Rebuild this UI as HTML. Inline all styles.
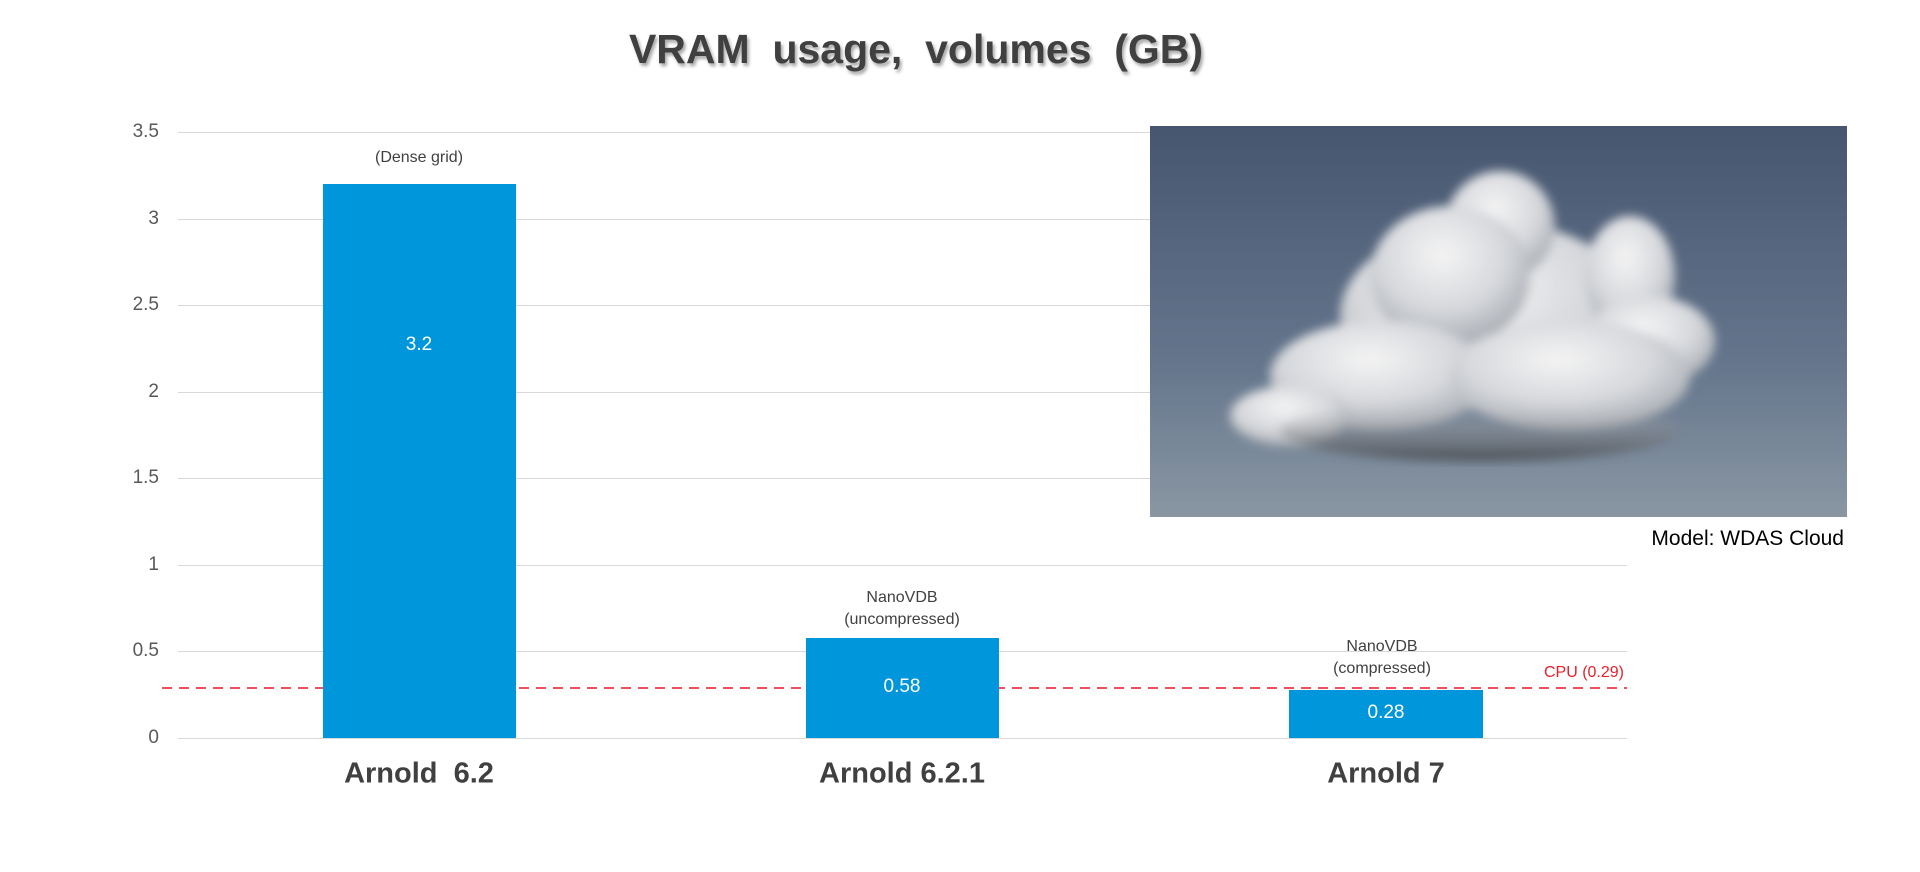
<!DOCTYPE html>
<html><head><meta charset="utf-8"><style>
body{margin:0;width:1920px;height:872px;background:#fff;position:relative;overflow:hidden;font-family:"Liberation Sans",Arial,sans-serif}
.a{position:absolute;white-space:nowrap}
.t{left:0;width:1832px;text-align:center;top:26px;font-size:41px;font-weight:bold;color:#404040;text-shadow:2px 3px 3px rgba(0,0,0,.35)}
.yl{right:1761px;font-size:19px;color:#595959;transform:translateY(-50%)}
.g{left:178px;width:1449px;height:1px;background:#d9d9d9}
.bar{background:#0096db}
.v{color:#fff;font-size:19px;transform:translate(-50%,-50%)}
.n{color:#404040;font-size:16px;transform:translate(-50%,-50%);text-align:center}
.c{font-size:29px;font-weight:bold;color:#404040;transform:translate(-50%,-50%)}
</style></head><body>
<div class="a t">VRAM &nbsp;usage, &nbsp;volumes &nbsp;(GB)</div>

<div class="a g" style="top:132px"></div>
<div class="a g" style="top:219px"></div>
<div class="a g" style="top:305px"></div>
<div class="a g" style="top:392px"></div>
<div class="a g" style="top:478px"></div>
<div class="a g" style="top:565px"></div>
<div class="a g" style="top:651px"></div>
<div class="a g" style="top:738px"></div>

<div class="a yl" style="top:132px">3.5</div>
<div class="a yl" style="top:219px">3</div>
<div class="a yl" style="top:305px">2.5</div>
<div class="a yl" style="top:392px">2</div>
<div class="a yl" style="top:478px">1.5</div>
<div class="a yl" style="top:565px">1</div>
<div class="a yl" style="top:651px">0.5</div>
<div class="a yl" style="top:738px">0</div>

<svg class="a" style="left:0;top:0" width="1920" height="872">
<line x1="162" y1="688" x2="1627" y2="688" stroke="#f0505a" stroke-width="2" stroke-dasharray="10,7"/>
</svg>

<div class="a bar" style="left:323px;width:193px;top:184px;height:554px"></div>
<div class="a bar" style="left:806px;width:193px;top:638px;height:100px"></div>
<div class="a bar" style="left:1289px;width:194px;top:690px;height:48px"></div>

<div class="a v" style="left:419px;top:345px">3.2</div>
<div class="a v" style="left:902px;top:687px">0.58</div>
<div class="a v" style="left:1386px;top:713px">0.28</div>

<div class="a n" style="left:419px;top:158px">(Dense grid)</div>
<div class="a n" style="left:902px;top:609px;line-height:22px">NanoVDB<br>(uncompressed)</div>
<div class="a n" style="left:1382px;top:658px;line-height:22px">NanoVDB<br>(compressed)</div>
<div class="a" style="right:296px;top:664px;font-size:16px;color:#e8202a">CPU (0.29)</div>

<div class="a c" style="left:419px;top:774px">Arnold &nbsp;6.2</div>
<div class="a c" style="left:902px;top:774px">Arnold 6.2.1</div>
<div class="a c" style="left:1386px;top:774px">Arnold 7</div>

<svg class="a" style="left:1150px;top:126px" width="697" height="391">
<defs>
<linearGradient id="sky" x1="0" y1="0" x2="0" y2="1"><stop offset="0" stop-color="#47566f"/><stop offset=".6" stop-color="#64758c"/><stop offset="1" stop-color="#8a97a3"/></linearGradient>
<radialGradient id="cw" cx=".45" cy=".35" r=".65"><stop offset="0" stop-color="#f4f4f4"/><stop offset=".6" stop-color="#d6d8dc"/><stop offset="1" stop-color="#a9adb3"/></radialGradient>
<linearGradient id="sh" x1="0" y1="0" x2="0" y2="1"><stop offset="0" stop-color="#d0d2d6" stop-opacity="0"/><stop offset="1" stop-color="#3a3c40"/></linearGradient>
<filter id="b"><feGaussianBlur stdDeviation="5"/></filter>
</defs>
<rect width="697" height="391" fill="url(#sky)"/>
<g filter="url(#b)" fill="url(#cw)">
<ellipse cx="340" cy="190" rx="150" ry="95"/>
<ellipse cx="350" cy="100" rx="55" ry="55"/>
<ellipse cx="300" cy="150" rx="80" ry="70"/>
<ellipse cx="480" cy="150" rx="45" ry="60"/>
<ellipse cx="500" cy="215" rx="65" ry="45"/>
<ellipse cx="230" cy="250" rx="110" ry="55"/>
<ellipse cx="140" cy="290" rx="60" ry="30"/>
<ellipse cx="420" cy="250" rx="120" ry="55"/>
</g>
<ellipse cx="330" cy="305" rx="200" ry="30" fill="url(#sh)" filter="url(#b)" opacity=".8"/>
</svg>
<div class="a" style="right:76px;top:527px;font-size:21px;color:#000">Model: WDAS Cloud</div>
</body></html>
